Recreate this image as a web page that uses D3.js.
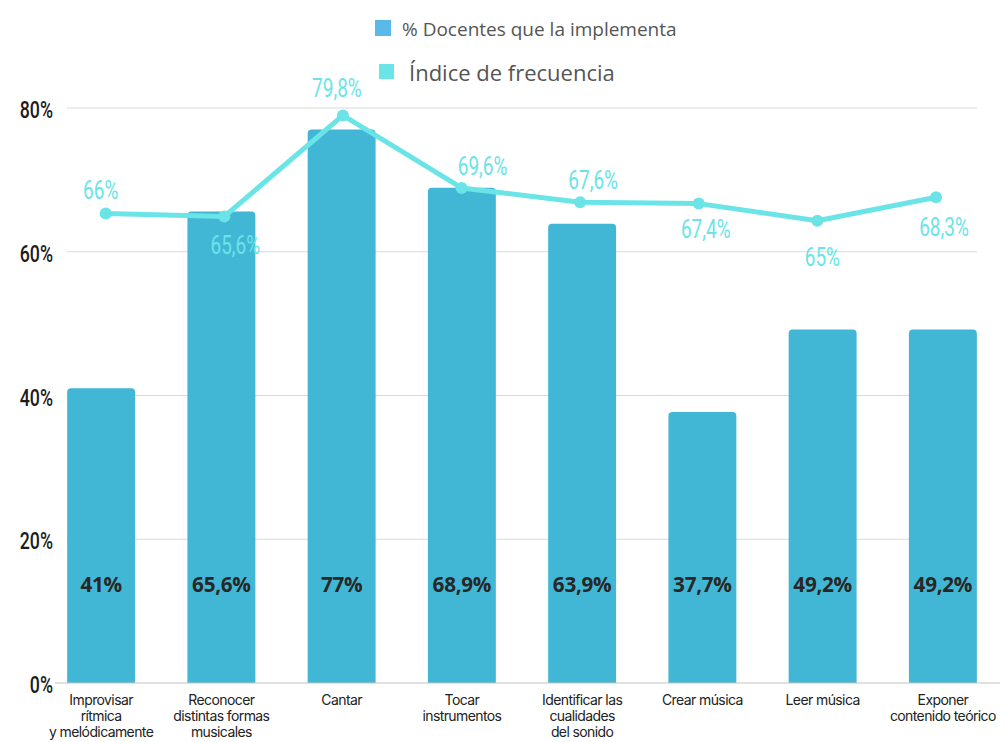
<!DOCTYPE html>
<html>
<head>
<meta charset="utf-8">
<script src="https://cdn.jsdelivr.net/npm/d3@7"></script>
<style>
  html, body { margin: 0; padding: 0; background: #fff; }
  svg { display: block; }
</style>
</head>
<body>
<svg id="chart" width="1005" height="742"></svg>
<script>
// Actividades (categorías del eje X, con saltos de línea)
const categories = [
  ["Improvisar", "rítmica", "y melódicamente"],
  ["Reconocer", "distintas formas", "musicales"],
  ["Cantar"],
  ["Tocar", "instrumentos"],
  ["Identificar las", "cualidades", "del sonido"],
  ["Crear música"],
  ["Leer música"],
  ["Exponer", "contenido teórico"]
];
// % Docentes que la implementa
const docentes = [41, 65.6, 77, 68.9, 63.9, 37.7, 49.2, 49.2];
const docentesLabels = ["41%", "65,6%", "77%", "68,9%", "63,9%", "37,7%", "49,2%", "49,2%"];
// Índice de frecuencia
const frecuencia = [66, 65.6, 79.8, 69.6, 67.6, 67.4, 65, 68.3];
const frecuenciaLabels = ["66%", "65,6%", "79,8%", "69,6%", "67,6%", "67,4%", "65%", "68,3%"];
// Desplazamiento de cada etiqueta del índice respecto a su punto (dx, dy de la línea base)
const frecuenciaOffsetX = [-5, 11, -6, 21, 13, 7, 5, 8];
const frecuenciaOffsetY = [-15, 38, -18, -13, -13, 34, 45, 39];
const yTicks = [0, 20, 40, 60, 80];
const yTickLabels = ["0%", "20%", "40%", "60%", "80%"];

const svg = d3.select("#chart");
const CONDENSED = "Roboto, 'Liberation Sans', sans-serif";
const cyan = "#6ae4e7";

// Texto estrecho: se comprime horizontalmente alrededor de su ancla
function narrowText(sel, sx) {
  return sel.attr("transform", function () {
    const tx = +this.getAttribute("data-x"), ty = +this.getAttribute("data-y");
    return `translate(${tx},${ty}) scale(${sx},1)`;
  });
}

const x = d3.scaleBand()
  .domain(d3.range(categories.length))
  .range([41, 1003])
  .paddingInner(0.435)
  .paddingOuter(0.2175);

const y = d3.scaleLinear().domain([0, 80]).range([683, 108]);

// Escalas propias de la serie de línea
const xLine = d3.scalePoint().domain(d3.range(categories.length)).range([105.7, 936]);
const yLine = d3.scaleLinear().domain([0, 80]).range([683, 114]);

// Líneas de cuadrícula
svg.append("g")
  .selectAll("line")
  .data(yTicks.filter(d => d > 0))
  .join("line")
  .attr("x1", 67).attr("x2", 977)
  .attr("y1", d => y(d)).attr("y2", d => y(d))
  .attr("stroke", "#dadada").attr("stroke-width", 1.2);

// Etiquetas del eje Y
svg.append("g")
  .selectAll("text")
  .data(yTicks)
  .join("text")
  .attr("data-x", 53)
  .attr("data-y", d => y(d) + 10)
  .attr("text-anchor", "end")
  .attr("font-family", CONDENSED)
  .attr("font-weight", 500)
  .attr("font-size", 24)
  .attr("fill", "#1c1c1c")
  .text((d, i) => yTickLabels[i])
  .call(narrowText, 0.74);

// Barras con esquinas superiores redondeadas
const r = 4;
svg.append("g")
  .selectAll("path")
  .data(docentes)
  .join("path")
  .attr("fill", "#42b7d5")
  .attr("d", (d, i) => {
    const x0 = x(i), w = x.bandwidth(), y0 = y(d), y1 = y(0);
    return `M${x0},${y1}V${y0 + r}Q${x0},${y0} ${x0 + r},${y0}H${x0 + w - r}Q${x0 + w},${y0} ${x0 + w},${y0 + r}V${y1}Z`;
  });

// Línea base
svg.append("line")
  .attr("x1", 55).attr("x2", 1000)
  .attr("y1", y(0)).attr("y2", y(0))
  .attr("stroke", "#c4c4c4").attr("stroke-width", 1.2);

// Valores dentro de las barras
svg.append("g")
  .selectAll("text")
  .data(docentesLabels)
  .join("text")
  .attr("data-x", (d, i) => x(i) + x.bandwidth() / 2)
  .attr("data-y", 592)
  .attr("text-anchor", "middle")
  .attr("font-family", "'Open Sans', sans-serif")
  .attr("font-size", 22)
  .attr("font-weight", "bold")
  .attr("fill", "#272727")
  .attr("letter-spacing", -0.3)
  .text(d => d)
  .call(narrowText, 0.94);

// Línea del índice de frecuencia
const lineGen = d3.line().x((d, i) => xLine(i)).y(d => yLine(d));
svg.append("path")
  .datum(frecuencia)
  .attr("d", lineGen)
  .attr("fill", "none")
  .attr("stroke", cyan)
  .attr("stroke-width", 5)
  .attr("stroke-linejoin", "round");

svg.append("g")
  .selectAll("circle")
  .data(frecuencia)
  .join("circle")
  .attr("cx", (d, i) => xLine(i))
  .attr("cy", d => yLine(d))
  .attr("r", 6)
  .attr("fill", cyan);

svg.append("g")
  .selectAll("text")
  .data(frecuencia)
  .join("text")
  .attr("data-x", (d, i) => xLine(i) + frecuenciaOffsetX[i])
  .attr("data-y", (d, i) => yLine(d) + frecuenciaOffsetY[i])
  .attr("text-anchor", "middle")
  .attr("font-family", CONDENSED)
  .attr("font-weight", 400)
  .attr("font-size", 25)
  .attr("fill", cyan)
  .text((d, i) => frecuenciaLabels[i])
  .call(narrowText, 0.76);

// Etiquetas del eje X (una línea de texto por renglón)
const xl = svg.append("g")
  .selectAll("g")
  .data(categories)
  .join("g");
xl.selectAll("text")
  .data((d, i) => d.map(t => ({ t, i })))
  .join("text")
  .attr("text-anchor", "middle")
  .attr("font-family", "Inter, 'Open Sans', sans-serif")
  .attr("font-size", 14)
  .attr("fill", "#222")
  .attr("letter-spacing", -0.6)
  .attr("x", d => x(d.i) + x.bandwidth() / 2)
  .attr("y", (d, j) => 705 + j * 16)
  .text(d => d.t);

// Leyenda
const legend = svg.append("g");
legend.append("rect").attr("x", 375).attr("y", 20).attr("width", 16).attr("height", 16).attr("fill", "#5bb9e9");
legend.append("text")
  .attr("x", 402).attr("y", 36)
  .attr("font-family", "'Open Sans', sans-serif")
  .attr("font-size", 19)
  .attr("fill", "#555")
  .text("% Docentes que la implementa");
legend.append("rect").attr("x", 379).attr("y", 64).attr("width", 15).attr("height", 15).attr("fill", cyan);
legend.append("text")
  .attr("x", 409).attr("y", 81)
  .attr("font-family", "'Open Sans', sans-serif")
  .attr("font-size", 22)
  .attr("fill", "#555")
  .text("Índice de frecuencia");
</script>
</body>
</html>
